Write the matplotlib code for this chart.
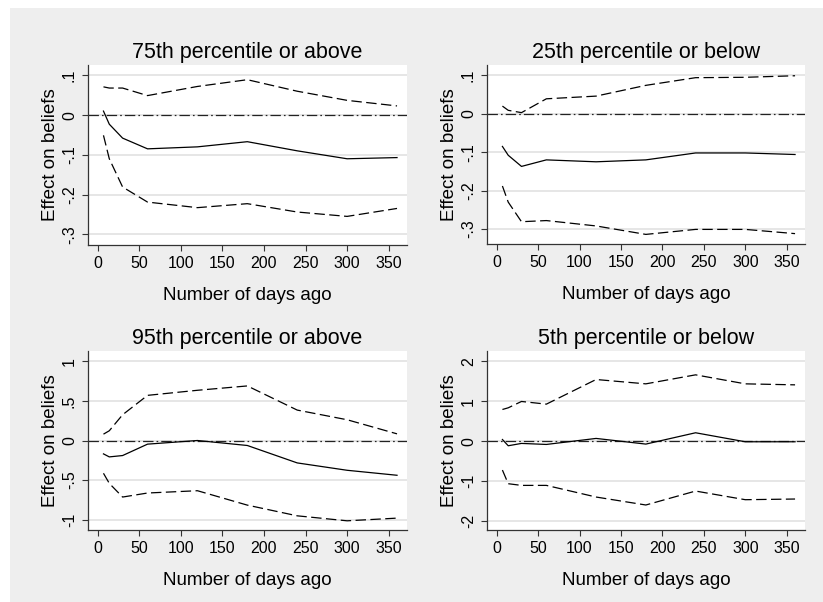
import numpy as np
import matplotlib.pyplot as plt
from matplotlib.patches import Rectangle

plt.rcParams['font.family'] = ['Liberation Sans', 'DejaVu Sans']
plt.rcParams['lines.scale_dashes'] = False

# days since the event (x values of every series)
days = [7, 14, 30, 60, 120, 180, 240, 300, 360]

titles = ["75th percentile or above", "25th percentile or below",
          "95th percentile or above", "5th percentile or below"]

# point estimates
est_p75 = [0.010, -0.023, -0.058, -0.085, -0.080, -0.067, -0.090, -0.110, -0.107]
est_p25 = [-0.085, -0.108, -0.137, -0.120, -0.125, -0.120, -0.102, -0.102, -0.106]
est_p95 = [-0.169, -0.207, -0.190, -0.046, 0.0, -0.063, -0.283, -0.376, -0.439]
est_p5 = [0.04, -0.117, -0.058, -0.084, 0.067, -0.075, 0.209, -0.017, -0.017]

# upper confidence bounds
hi_p75 = [0.071, 0.068, 0.068, 0.049, 0.072, 0.089, 0.060, 0.037, 0.023]
hi_p25 = [0.020, 0.009, 0.003, 0.039, 0.046, 0.074, 0.094, 0.095, 0.099]
hi_p95 = [0.080, 0.123, 0.325, 0.570, 0.634, 0.689, 0.384, 0.262, 0.084]
hi_p5 = [0.793, 0.835, 0.994, 0.927, 1.545, 1.436, 1.662, 1.436, 1.411]

# lower confidence bounds
lo_p75 = [-0.051, -0.110, -0.181, -0.219, -0.233, -0.223, -0.244, -0.255, -0.235]
lo_p25 = [-0.188, -0.230, -0.281, -0.278, -0.292, -0.314, -0.301, -0.301, -0.312]
lo_p95 = [-0.414, -0.541, -0.714, -0.663, -0.634, -0.816, -0.951, -1.014, -0.980]
lo_p5 = [-0.727, -1.069, -1.111, -1.111, -1.403, -1.603, -1.253, -1.470, -1.453]

xticks = [0, 50, 100, 150, 200, 250, 300, 350]
yticks_small = [0.1, 0, -0.1, -0.2, -0.3]
yticklabels_small = [".1", "0", "-.1", "-.2", "-.3"]
yticks_p95 = [1, 0.5, 0, -0.5, -1]
yticklabels_p95 = ["1", ".5", "0", "-.5", "-1"]
yticks_p5 = [2, 1, 0, -1, -2]
yticklabels_p5 = ["2", "1", "0", "-1", "-2"]

W, H = 823, 602
fig = plt.figure(figsize=(W / 100, H / 100), dpi=100)
fig.patch.set_facecolor('white')
fig.patches.append(Rectangle((10 / W, 0), 1, 1 - 8 / H, transform=fig.transFigure,
                             facecolor='#eeeeee', edgecolor='none', zorder=-10))


def px_axes(left, top, right, bottom):
    return fig.add_axes([left / W, 1 - bottom / H, (right - left) / W, (bottom - top) / H])


panels = [
    ((88, 65, 407, 245), titles[0], est_p75, hi_p75, lo_p75, yticks_small, yticklabels_small, (-0.327, 0.126)),
    ((487, 65, 805, 244), titles[1], est_p25, hi_p25, lo_p25, yticks_small, yticklabels_small, (-0.339, 0.127)),
    ((88, 351, 407, 530), titles[2], est_p95, hi_p95, lo_p95, yticks_p95, yticklabels_p95, (-1.13, 1.13)),
    ((487, 351, 805, 530), titles[3], est_p5, hi_p5, lo_p5, yticks_p5, yticklabels_p5, (-2.23, 2.26)),
]

dash = (0, (7.5, 3.2))
dashdot = (0, (7.5, 2.2, 1.2, 2.2))

for box, title, est, hi, lo, yt, ytl, ylim in panels:
    ax = px_axes(*box)
    ax.set_facecolor('white')
    for y in yt:
        ax.axhline(y, color='#e6e6e6', lw=1.4, zorder=0)
    ax.axhline(0, color='#222222', lw=0.9, linestyle=dashdot, zorder=1)
    ax.plot(days, hi, color='black', lw=0.9, linestyle=dash, zorder=2)
    ax.plot(days, est, color='black', lw=0.9, zorder=2)
    ax.plot(days, lo, color='black', lw=0.9, linestyle=dash, zorder=2)

    ax.set_xlim(-11.6, 372)
    ax.set_ylim(*ylim)
    ax.set_xticks(xticks)
    ax.set_xticklabels([str(t) for t in xticks], fontsize=11.5)
    ax.set_yticks(yt)
    ax.set_yticklabels(ytl, fontsize=11.5, rotation=90, va='center')
    ax.tick_params(direction='out', length=4.5, width=0.8, color='#333333', pad=3.5)
    for s in ['top', 'right']:
        ax.spines[s].set_visible(False)
    for s in ['left', 'bottom']:
        ax.spines[s].set_color('#333333')
        ax.spines[s].set_linewidth(0.9)
    ax.set_title(title, fontsize=15.5, pad=5)
    ax.set_xlabel("Number of days ago", fontsize=13.5, labelpad=11.5)
    ax.set_ylabel("Effect on beliefs", fontsize=13.5, labelpad=2)

fig.savefig("out.png", dpi=100)
